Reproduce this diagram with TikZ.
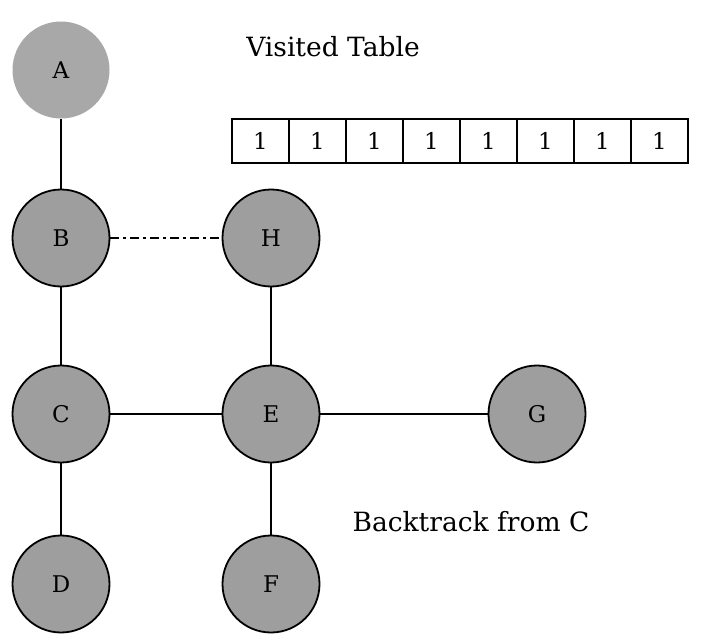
\documentclass[tikz,border=0pt]{standalone}
\usepackage{fontspec}
\setmainfont{DejaVu Serif}
\usetikzlibrary{positioning}
\definecolor{nodegray}{RGB}{158,158,158}
\definecolor{rootgray}{RGB}{168,168,168}
\tikzset{
  vtx/.style={circle,draw=black,fill=nodegray,line width=1.8pt,minimum size=97pt,inner sep=0pt,font=\fontsize{23}{26}\selectfont},
  cell/.style={draw=black,line width=1.8pt,minimum width=57pt,minimum height=44pt,inner sep=0pt,font=\fontsize{23}{26}\selectfont},
  edge/.style={line width=2pt},
  lbl/.style={font=\fontsize{26.5}{30}\selectfont}
}

\begin{document}
\begin{tikzpicture}[x=1pt,y=-1pt]
\useasboundingbox[fill=white] (0,0) rectangle (702,634);
% the tree
\node[vtx,draw=none,fill=rootgray] (A) at (61,70) {A};
\node[vtx] (B) at (61,238) {B};
\node[vtx] (H) at (271,238) {H};
\node[vtx] (C) at (61,414) {C};
\node[vtx] (E) at (271,414) {E};
\node[vtx] (G) at (537,414) {G};
\node[vtx] (D) at (61,584) {D};
\node[vtx] (F) at (271,584) {F};
\draw[edge] (A) -- (B);
\draw[edge] (B) -- (C);
\draw[edge] (C) -- (D);
\draw[edge] (C) -- (E);
\draw[edge] (H) -- (E);
\draw[edge] (E) -- (F);
\draw[edge] (E) -- (G);
\draw[edge,dash pattern=on 9pt off 4pt on 3pt off 4pt] (B) -- (H);
% visited table
\node[lbl] (vtitle) at (333,47) {Visited Table};
\node[cell] (v1) at (260.5,141) {1};
\node[cell] (v2) at (317.5,141) {1};
\node[cell] (v3) at (374.5,141) {1};
\node[cell] (v4) at (431.5,141) {1};
\node[cell] (v5) at (488.5,141) {1};
\node[cell] (v6) at (545.5,141) {1};
\node[cell] (v7) at (602.5,141) {1};
\node[cell] (v8) at (659.5,141) {1};
\node[lbl] (back) at (471,522) {Backtrack from C};
\end{tikzpicture}
\end{document}
